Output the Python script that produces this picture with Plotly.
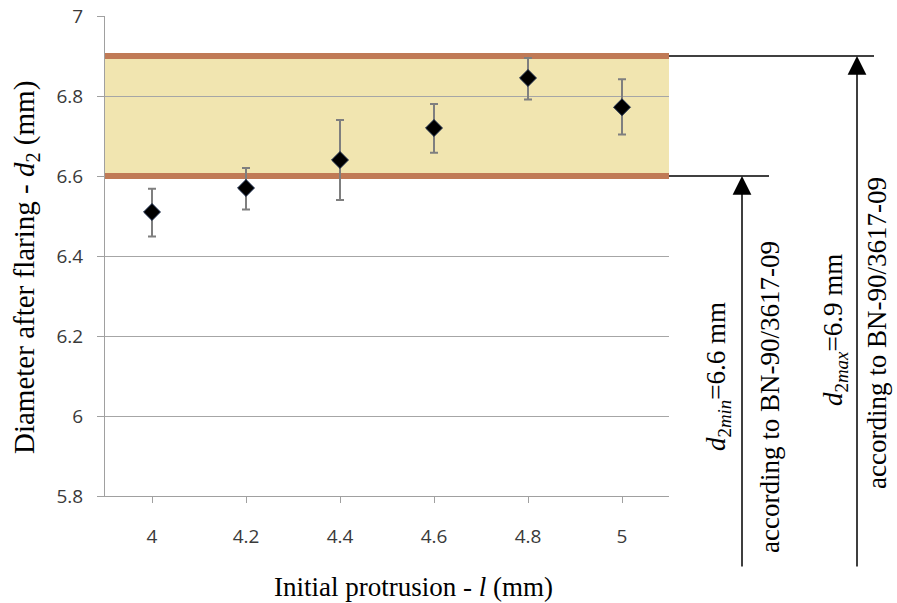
import plotly.graph_objects as go

protrusion = [4.0, 4.2, 4.4, 4.6, 4.8, 5.0]
diameter = [6.51, 6.57, 6.64, 6.72, 6.845, 6.772]
err_plus = [0.058, 0.05, 0.10, 0.06, 0.05, 0.07]
err_minus = [0.061, 0.054, 0.10, 0.062, 0.054, 0.068]
d2_min = 6.6
d2_max = 6.9
x_range = [3.9, 5.1]
x_ticks = [4.0, 4.2, 4.4, 4.6, 4.8, 5.0]
x_tick_labels = ["4", "4.2", "4.4", "4.6", "4.8", "5"]
y_ticks = [5.8, 6.0, 6.2, 6.4, 6.6, 6.8, 7.0]
y_tick_labels = ["5.8", "6", "6.2", "6.4", "6.6", "6.8", "7"]

# body margin is removed by post_script, so the figure fills the page
OFF = 0
W, H = 897 - OFF, 603 - OFF
PL, PR, PT, PB = 105, 669, 16, 496          # plot area in page pixels
L, T = PL - OFF, PT - OFF
R, B = W - (PR - OFF), H - (PB - OFF)
pw, ph = PR - PL, PB - PT

def px(xpage):
    return (xpage - PL) / pw

def py(ypage):
    return (PB - ypage) / ph

serif = "Liberation Serif, Times New Roman, serif"
band_line = "#C07A56"

fig = go.Figure()
for lvl in (d2_max, d2_min):
    fig.add_trace(go.Scatter(x=x_range, y=[lvl, lvl], mode="lines",
                             line=dict(color=band_line, width=6),
                             hoverinfo="skip", showlegend=False))
fig.add_trace(go.Scatter(
    x=protrusion, y=diameter, mode="markers",
    marker=dict(symbol="diamond", size=13, color="black",
                line=dict(color="#1a2a4a", width=1)),
    error_y=dict(type="data", symmetric=False, array=err_plus, arrayminus=err_minus,
                 color="#7f7f7f", thickness=2, width=4),
    showlegend=False, cliponaxis=False,
))

shapes = [
    dict(type="rect", xref="paper", yref="y", x0=0, x1=1, y0=d2_min, y1=d2_max,
         fillcolor="#F1E5B0", line=dict(width=0), layer="below"),
    dict(type="line", xref="paper", yref="y", x0=1.0, x1=px(874), y0=d2_max, y1=d2_max,
         line=dict(color="black", width=1.3)),
    dict(type="line", xref="paper", yref="y", x0=1.0, x1=px(769), y0=d2_min, y1=d2_min,
         line=dict(color="black", width=1.3)),
]

txt = dict(family=serif, size=27, color="black")

def label(x, y, text, font=txt, angle=-90):
    return dict(xref="paper", yref="paper", x=px(x), y=py(y), showarrow=False,
                textangle=angle, text=text, font=font,
                xanchor="center", yanchor="middle")

annotations = [
    dict(xref="paper", yref="y", x=px(857), y=d2_max, ax=0, ay=(568 - 56),
         axref="pixel", ayref="pixel", showarrow=True, arrowhead=2, arrowsize=2.5,
         arrowwidth=1.5, arrowcolor="black", text=""),
    dict(xref="paper", yref="y", x=px(742), y=d2_min, ax=0, ay=(568 - 176),
         axref="pixel", ayref="pixel", showarrow=True, arrowhead=2, arrowsize=2.5,
         arrowwidth=1.5, arrowcolor="black", text=""),
    label(718, 377, "<i>d</i><sub>2<i>min</i></sub>=6.6 mm"),
    label(770, 397, "according to BN-90/3617-09"),
    label(835, 330, "<i>d</i><sub>2<i>max</i></sub>=6.9 mm"),
    label(877, 333, "according to BN-90/3617-09"),
    label(26, 268, "Diameter after flaring - <i>d</i><sub>2</sub> (mm)",
          font=dict(family=serif, size=29, color="black")),
    label(413, 587, "Initial protrusion - <i>l</i> (mm)", angle=0),
]

tick_font = dict(family="Open Sans, Lato, sans-serif", size=19, color="#3a3a3a")

fig.update_layout(
    width=W, height=H,
    margin=dict(l=L, r=R, t=T, b=B, pad=0, autoexpand=False),
    paper_bgcolor="white", plot_bgcolor="white",
    shapes=shapes, annotations=annotations,
    xaxis=dict(range=x_range, tickvals=x_ticks, ticktext=x_tick_labels,
               showgrid=False, zeroline=False, showline=True, linecolor="#a0a0a0",
               linewidth=1, ticks="outside", ticklen=6, tickcolor="#a0a0a0",
               tickfont=tick_font, ticklabelstandoff=17, ticklabeloverflow="allow"),
    yaxis=dict(range=[5.8, 7.0], tickvals=y_ticks, ticktext=y_tick_labels,
               showgrid=True, gridcolor="#a6a6a6", gridwidth=1, zeroline=False,
               showline=True, linecolor="#a0a0a0", linewidth=1,
               ticks="outside", ticklen=7, tickcolor="#a0a0a0",
               tickfont=tick_font, ticklabelstandoff=10, ticklabeloverflow="allow"),
)

fig.write_html("out.html", config={"displayModeBar": False},
               post_script="document.body.style.margin='0';document.body.style.overflow='hidden';")
